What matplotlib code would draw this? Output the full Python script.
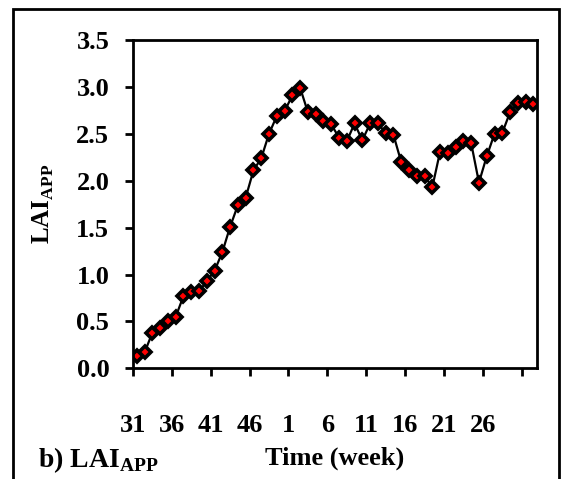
import matplotlib.pyplot as plt
from matplotlib.patches import Rectangle
import numpy as np

# week numbers, weeks 31-50 of one year then 1-32 of the next
weeks = list(range(31, 51)) + list(range(1, 33))
lai = [0.13, 0.17, 0.38, 0.43, 0.50, 0.55, 0.77, 0.81, 0.82, 0.93,
       1.04, 1.24, 1.51, 1.74, 1.82, 2.11, 2.24, 2.50, 2.69, 2.74,
       2.91, 2.99, 2.73, 2.71, 2.64, 2.60, 2.46, 2.42, 2.61, 2.43,
       2.61, 2.61, 2.51, 2.49, 2.20, 2.11, 2.05, 2.05, 1.93, 2.31,
       2.29, 2.36, 2.42, 2.40, 1.98, 2.26, 2.50, 2.51, 2.73, 2.83,
       2.84, 2.82]
tick_labels = ["31", "36", "41", "46", "1", "6", "11", "16", "21", "26", ""]

plt.rcParams['font.family'] = ['Liberation Serif', 'DejaVu Serif']
plt.rcParams['font.weight'] = 'bold'

fig = plt.figure(figsize=(5.61, 4.79), dpi=100)
ax = fig.add_axes([0.237, 0.2311, 0.7207, 0.6854])

x = np.arange(len(lai)) + 0.5
ax.plot(x, lai, color='black', lw=1.6, marker='D', markersize=6,
        markerfacecolor='red', markeredgecolor='black', markeredgewidth=2.6)

ax.set_xlim(0, len(lai))
ax.set_ylim(0, 3.5)
ax.set_xticks(np.arange(0, 51, 5))
ax.set_xticklabels(tick_labels)
ax.set_yticks(np.arange(0, 3.51, 0.5))
ax.set_yticklabels([f"{v:.1f}" for v in np.arange(0, 3.51, 0.5)])
ax.tick_params(direction='out', length=6, width=2, labelsize=19)
ax.tick_params(axis='x', pad=27)
ax.tick_params(axis='y', pad=11)
for s in ax.spines.values():
    s.set_linewidth(2)

ax.set_ylabel("LAI$_{\\mathregular{APP}}$", fontsize=18, fontweight='bold', va='center')
ax.yaxis.set_label_coords(-0.222, 0.5)
fig.text(0.597, 0.043, "Time (week)", fontsize=19, fontweight='bold', ha='center', va='center')
fig.text(0.068, 0.040, "b) LAI$_{\\mathregular{APP}}$", fontsize=20, fontweight='bold', ha='left', va='center')

# outer frame of the panel
fig.patches.append(Rectangle((13 / 561, -0.05), 546 / 561, 1 - 9 / 479 + 0.05,
                             transform=fig.transFigure, fill=False,
                             edgecolor='black', lw=2))

fig.savefig("out.png", dpi=100)
